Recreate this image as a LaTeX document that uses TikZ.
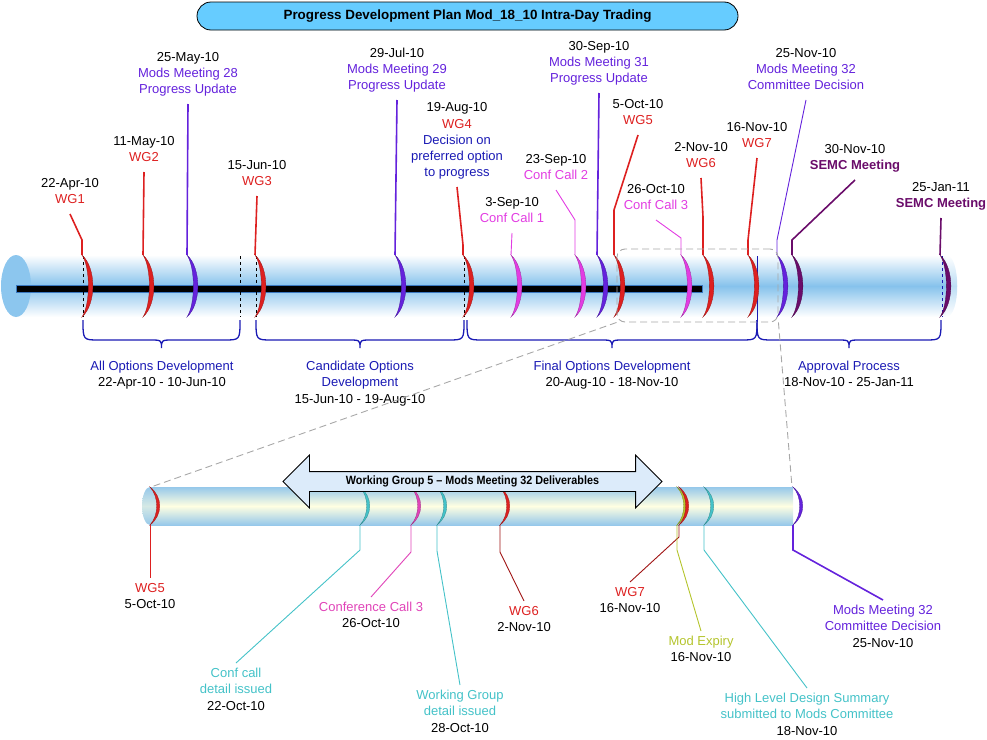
\documentclass[tikz,border=0pt]{standalone}
\usepackage{fontspec}
\setmainfont{Liberation Sans}
\usetikzlibrary{shapes.arrows}

\definecolor{wgred}{HTML}{DD2020}
\definecolor{mmvio}{HTML}{6422DC}
\definecolor{ccpink}{HTML}{E23CE2}
\definecolor{semc}{HTML}{6A0C6A}
\definecolor{brblue}{HTML}{1A1AB4}
\definecolor{detail}{HTML}{44C2C8}
\definecolor{lowpink}{HTML}{E044B8}
\definecolor{expiry}{HTML}{B4C42C}
\definecolor{darkred}{HTML}{A01414}
\definecolor{tubeblue}{HTML}{86C2EC}
\definecolor{capblue}{HTML}{8CC6EE}
\definecolor{lowblue}{HTML}{96C8EA}
\definecolor{lowcream}{HTML}{FFFFE2}
\definecolor{titlefill}{HTML}{66CCFF}
\definecolor{arrowfill}{HTML}{DCEBFA}
\definecolor{zoomgray}{HTML}{A8A8A8}
\definecolor{barblue}{HTML}{3A78C0}

\newcommand{\lblfont}{\fontsize{13}{16.3}\selectfont}

\tikzset{
  lbl/.style={font=\lblfont, align=center, inner sep=5pt,
    execute at begin node=\strut, execute at end node=\strut},
  toplbl/.style={lbl, anchor=south},
  botlbl/.style={lbl, anchor=north, yshift=-3pt},
  lead/.style={line width=1.6pt},
  thinlead/.style={line width=0.9pt},
  bracepen/.style={draw=brblue, line width=1.3pt},
  titlebox/.style={draw, line width=0.8pt, fill=titlefill, rounded corners=14pt,
    minimum width=541pt, minimum height=28pt, font=\bfseries\fontsize{13.4}{15}\selectfont},
  delivarrow/.style={double arrow, draw, line width=0.8pt, fill=arrowfill,
    minimum height=379pt, double arrow head extend=16.5pt, double arrow tip angle=90,
    inner xsep=0pt, inner ysep=4.75pt, text height=8pt, text depth=1.5pt,
    font=\bfseries\fontsize{12}{13}\selectfont},
  zoombox/.style={draw=zoomgray, dash pattern=on 7pt off 4pt, line width=0.9pt,
    rounded corners=8pt, minimum width=161pt, minimum height=73pt, inner sep=0pt},
  zoomline/.style={draw=zoomgray, dash pattern=on 7pt off 4pt, line width=0.9pt},
}

\begin{document}
\begin{tikzpicture}[x=1pt, y=-1pt]
\useasboundingbox (0,0) rectangle (987,739);

\node[titlebox] (title) at (467.5,16) {Progress Development Plan Mod\_18\_10 Intra-Day Trading};

% main timeline
\shade[top color=white, bottom color=white, middle color=tubeblue] (16,255) rectangle (946,317);
\shade[top color=white, bottom color=white, middle color=tubeblue!55] (946,255) .. controls (961,255) and (961,317) .. (946,317) -- cycle;
\fill[capblue] (16,286) ellipse [x radius=15, y radius=31];
\filldraw[fill=black, draw=barblue, line width=0.8pt] (16,285) rectangle (702,292);

\foreach \x in {83,240,256,464}
  \draw[dashed, line width=0.6pt] (\x,256) -- (\x,317);
\draw[brblue, dashed, line width=0.6pt] (942,256) -- (942,317);
\draw[brblue, line width=1pt] (757,256) -- (757,322);

\foreach \n/\x/\c in {wgAtop/82/wgred, wgBtop/143/wgred, mmAtop/187/mmvio, wgCtop/255/wgred,
    mmBtop/395/mmvio, wgDtop/463/wgred, ccAtop/511/ccpink, ccBtop/575/ccpink, mmCtop/597/mmvio,
    wgEtop/614/wgred, ccCtop/681/ccpink, wgFtop/703/wgred, wgGtop/748/wgred, mmDtop/777/mmvio,
    smAtop/792/semc, smBtop/940/semc}{
  \filldraw[fill=\c, draw=\c!70!black, line width=0.3pt] (\x,255) .. controls (\x+14.5,268) and (\x+14.5,304) .. (\x,317)
    .. controls (\x+8.5,304) and (\x+8.5,268) .. cycle;
  \coordinate (\n) at (\x,255);
}

% dates above the timeline
\node[toplbl] (wg1) at (70,214) {22-Apr-10\\\textcolor{wgred}{WG1}};
\node[toplbl] (wg2) at (144,172) {11-May-10\\\textcolor{wgred}{WG2}};
\node[toplbl] (mm28) at (188,104) {25-May-10\\\textcolor{mmvio}{Mods Meeting 28}\\\textcolor{mmvio}{Progress Update}};
\node[toplbl] (wg3) at (257,196) {15-Jun-10\\\textcolor{wgred}{WG3}};
\node[toplbl] (mm29) at (397,100) {29-Jul-10\\\textcolor{mmvio}{Mods Meeting 29}\\\textcolor{mmvio}{Progress Update}};
\node[toplbl] (wg4) at (457,187) {19-Aug-10\\\textcolor{wgred}{WG4}\\\textcolor{brblue}{Decision on}\\\textcolor{brblue}{preferred option}\\\textcolor{brblue}{to progress}};
\node[toplbl] (cc1) at (512,233) {3-Sep-10\\\textcolor{ccpink}{Conf Call 1}};
\node[toplbl] (cc2) at (556,190) {23-Sep-10\\\textcolor{ccpink}{Conf Call 2}};
\node[toplbl] (mm31) at (599,93) {30-Sep-10\\\textcolor{mmvio}{Mods Meeting 31}\\\textcolor{mmvio}{Progress Update}};
\node[toplbl] (wg5) at (638,135) {5-Oct-10\\\textcolor{wgred}{WG5}};
\node[toplbl] (cc3) at (656,220) {26-Oct-10\\\textcolor{ccpink}{Conf Call 3}};
\node[toplbl] (wg6) at (701,178) {2-Nov-10\\\textcolor{wgred}{WG6}};
\node[toplbl] (wg7) at (757,158) {16-Nov-10\\\textcolor{wgred}{WG7}};
\node[toplbl] (mm32) at (806,100) {25-Nov-10\\\textcolor{mmvio}{Mods Meeting 32}\\\textcolor{mmvio}{Committee Decision}};
\node[toplbl] (semc1) at (855,180) {30-Nov-10\\\textcolor{semc}{\bfseries SEMC Meeting}};
\node[toplbl] (semc2) at (941,218) {25-Jan-11\\\textcolor{semc}{\bfseries SEMC Meeting}};

\draw[lead, wgred] (wgAtop) -- ++(0,-15) -- (wg1.south);
\draw[lead, wgred] (wgBtop) -- (wg2.south);
\draw[lead, mmvio] (mmAtop) -- (mm28.south);
\draw[lead, wgred] (wgCtop) -- (wg3.south);
\draw[lead, mmvio] (mmBtop) -- (mm29.south);
\draw[lead, wgred] (wgDtop) -- ++(0,-10) -- (wg4.south);
\draw[thinlead, ccpink] (ccAtop) -- (cc1.south);
\draw[thinlead, ccpink] (ccBtop) -- ++(0,-35) -- (cc2.south);
\draw[lead, mmvio] (mmCtop) -- (mm31.south);
\draw[lead, wgred] (wgEtop) -- ++(0,-45) -- (wg5.south);
\draw[thinlead, ccpink] (ccCtop) -- ++(0,-17) -- (cc3.south);
\draw[lead, wgred] (wgFtop) -- ++(0,-38) -- (wg6.south);
\draw[lead, wgred] (wgGtop) -- ++(0,-15) -- (wg7.south);
\draw[thinlead, mmvio] (mmDtop) -- ++(0,-15) -- (mm32.south);
\draw[lead, semc] (smAtop) -- ++(0,-15) -- (semc1.south);
\draw[lead, semc] (smBtop) -- (semc2.south);

% phases
\foreach \n/\a/\b in {brA/83/240, brB/256/464, brC/467/757, brD/757/941}{
  \pgfmathsetmacro\m{(\a+\b)/2}
  \draw[bracepen] (\a,320) .. controls (\a,340) .. (\a+16,340) -- (\m-12,340) .. controls (\m,340) .. (\m,348)
    .. controls (\m,340) .. (\m+12,340) -- (\b-16,340) .. controls (\b,340) .. (\b,320);
  \coordinate (\n) at (\m,348);
}
\node[botlbl] (allopt) at (162,353) {\textcolor{brblue}{All Options Development}\\22-Apr-10 - 10-Jun-10};
\node[botlbl] (candopt) at (360,353) {\textcolor{brblue}{Candidate Options}\\\textcolor{brblue}{Development}\\15-Jun-10 - 19-Aug-10};
\node[botlbl] (finalopt) at (612,353) {\textcolor{brblue}{Final Options Development}\\20-Aug-10 - 18-Nov-10};
\node[botlbl] (approval) at (849,353) {\textcolor{brblue}{Approval Process}\\18-Nov-10 - 25-Jan-11};

% zoom on WG5 - Mods Meeting 32
\node[zoombox] (zoom) at (697.5,285.5) {};
\coordinate (lowL) at (151,487);
\coordinate (lowR) at (792,487);
\draw[zoomline] (zoom.south west) -- (lowL);
\draw[zoomline] (zoom.south east) -- (lowR);

\shade[top color=lowblue, bottom color=lowblue, middle color=lowcream] (150,487) rectangle (793,525);
\shade[top color=lowblue, bottom color=lowblue, middle color=lowcream!60!lowblue] (150,506) ellipse [x radius=8, y radius=19];

\foreach \n/\x/\c in {lwAbot/150/wgred, lcAbot/360/detail, lcBbot/411/lowpink, lcCbot/437/detail,
    lwBbot/500/wgred, lxAbot/677/expiry, lwCbot/679/wgred, lcDbot/704/detail, lmAbot/793/mmvio}{
  \filldraw[fill=\c, draw=\c!70!black, line width=0.3pt] (\x,487) .. controls (\x+13,497) and (\x+13,515) .. (\x,525)
    .. controls (\x+9,515) and (\x+9,497) .. cycle;
  \coordinate (\n) at (\x,525);
}

\node[delivarrow] (deliv) at (472.5,481.5) {\scalebox{0.9}[1]{Working Group 5 – Mods Meeting 32 Deliverables}};

% dates below the zoomed timeline
\node[botlbl] (wg5low) at (150,575) {\textcolor{wgred}{WG5}\\5-Oct-10};
\node[botlbl] (ccdet) at (236,660) {\textcolor{detail}{Conf call}\\\textcolor{detail}{detail issued}\\22-Oct-10};
\node[botlbl] (cc3low) at (371,594) {\textcolor{lowpink}{Conference Call 3}\\26-Oct-10};
\node[botlbl] (wgdet) at (460,682) {\textcolor{detail}{Working Group}\\\textcolor{detail}{detail issued}\\28-Oct-10};
\node[botlbl] (wg6low) at (524,598) {\textcolor{wgred}{WG6}\\2-Nov-10};
\node[botlbl] (wg7low) at (630,579) {\textcolor{wgred}{WG7}\\16-Nov-10};
\node[botlbl] (modexp) at (701,628) {\textcolor{expiry}{Mod Expiry}\\16-Nov-10};
\node[botlbl] (hld) at (807,685) {\textcolor{detail}{High Level Design Summary}\\\textcolor{detail}{submitted to Mods Committee}\\18-Nov-10};
\node[botlbl] (mm32low) at (883,597) {\textcolor{mmvio}{Mods Meeting 32}\\\textcolor{mmvio}{Committee Decision}\\25-Nov-10};

\draw[thinlead, wgred] (lwAbot) -- (wg5low.north);
\draw[thinlead, detail] (lcAbot) -- ++(0,25) -- (ccdet.north);
\draw[thinlead, lowpink] (lcBbot) -- ++(0,27) -- (cc3low.north);
\draw[thinlead, detail] (lcCbot) -- ++(0,26) -- (wgdet.north);
\draw[thinlead, darkred] (lwBbot) -- ++(0,27) -- (wg6low.north);
\draw[thinlead, darkred] (lwCbot) -- ++(0,12) -- (wg7low.north);
\draw[thinlead, expiry] (lxAbot) -- ++(0,25) -- (modexp.north);
\draw[thinlead, detail] (lcDbot) -- ++(0,25) -- (hld.north);
\draw[lead, mmvio] (lmAbot) -- ++(0,25) -- (mm32low.north);
\end{tikzpicture}
\end{document}
